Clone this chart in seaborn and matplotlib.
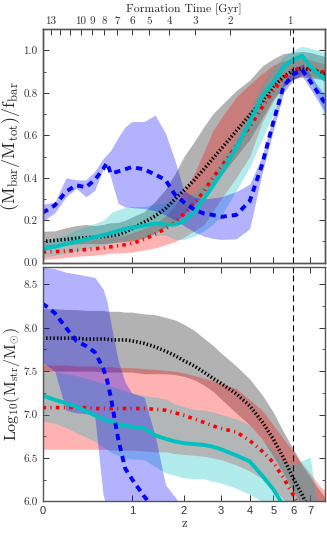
import numpy as np
import pandas as pd
import matplotlib
matplotlib.use('Agg')
import matplotlib.pyplot as plt
import seaborn as sns
from matplotlib.ticker import MultipleLocator, NullLocator, FixedLocator

nan = np.nan

# redshift grid the curves are sampled on
z = [0, 0.1, 0.2, 0.3, 0.4, 0.5, 0.6, 0.65, 0.7, 0.8, 0.9, 1.0, 1.2, 1.4, 1.6, 1.8,
     2.0, 2.25, 2.5, 2.75, 3.0, 3.5, 4.0, 4.5, 5.0, 5.5, 6.0, 6.5, 7.0, 7.5, 8.0]

# ---- top panel: (M_bar/M_tot)/f_bar ----
fb_blue = [0.235, 0.27, 0.335, 0.365, 0.355, 0.39, 0.44, 0.47, 0.42, 0.43, 0.44, 0.45, 0.44, 0.415, 0.39, 0.32,
           0.285, 0.25, 0.232, 0.225, 0.216, 0.225, 0.29, 0.46, 0.66, 0.83, 0.885, 0.91, 0.855, 0.80, 0.75]
fb_blue_lo = [0.195, 0.235, 0.31, 0.35, 0.31, 0.34, 0.44, 0.46, 0.40, 0.28, 0.262, 0.26, 0.255, 0.245, 0.225, 0.20,
              0.175, 0.145, 0.125, 0.115, 0.11, 0.112, 0.16, 0.42, 0.62, 0.80, 0.86, 0.88, 0.82, 0.76, 0.71]
fb_blue_hi = [0.275, 0.285, 0.40, 0.39, 0.39, 0.43, 0.49, 0.51, 0.53, 0.59, 0.64, 0.665, 0.665, 0.695, 0.61, 0.48,
              0.34, 0.31, 0.30, 0.305, 0.31, 0.335, 0.37, 0.50, 0.69, 0.85, 0.905, 0.935, 0.885, 0.83, 0.79]

fb_black = [0.10, 0.105, 0.11, 0.115, 0.118, 0.12, 0.123, 0.125, 0.127, 0.133, 0.145, 0.16, 0.19, 0.22, 0.255, 0.30,
            0.34, 0.39, 0.44, 0.49, 0.535, 0.62, 0.695, 0.76, 0.83, 0.875, 0.905, 0.915, 0.91, 0.90, 0.89]
fb_black_lo = [0.08, 0.082, 0.085, 0.088, 0.09, 0.09, 0.09, 0.092, 0.094, 0.097, 0.10, 0.102, 0.115, 0.14, 0.165, 0.19,
               0.23, 0.275, 0.32, 0.37, 0.41, 0.50, 0.58, 0.68, 0.77, 0.83, 0.865, 0.875, 0.87, 0.865, 0.86]
fb_black_hi = [0.148, 0.15, 0.165, 0.175, 0.18, 0.175, 0.18, 0.185, 0.188, 0.19, 0.20, 0.215, 0.24, 0.29, 0.345, 0.42,
               0.50, 0.57, 0.64, 0.70, 0.74, 0.81, 0.86, 0.925, 0.96, 0.985, 0.99, 0.995, 0.99, 0.98, 0.97]

fb_cyan = [0.065, 0.075, 0.088, 0.10, 0.11, 0.12, 0.13, 0.135, 0.14, 0.15, 0.16, 0.165, 0.175, 0.185, 0.18, 0.18,
           0.195, 0.24, 0.30, 0.36, 0.42, 0.54, 0.66, 0.78, 0.85, 0.92, 0.955, 0.975, 0.925, 0.89, 0.86]
fb_cyan_lo = [0.025, 0.035, 0.045, 0.055, 0.065, 0.075, 0.082, 0.086, 0.09, 0.10, 0.105, 0.11, 0.12, 0.13, 0.13, 0.11,
              0.11, 0.125, 0.15, 0.18, 0.22, 0.34, 0.45, 0.58, 0.70, 0.82, 0.87, 0.895, 0.86, 0.78, 0.67]
fb_cyan_hi = [0.10, 0.115, 0.13, 0.155, 0.17, 0.185, 0.20, 0.215, 0.235, 0.25, 0.26, 0.265, 0.265, 0.275, 0.28, 0.29,
              0.30, 0.33, 0.37, 0.42, 0.48, 0.59, 0.72, 0.84, 0.92, 0.97, 1.0, 1.02, 1.01, 1.0, 0.99]

fb_red = [0.05, 0.052, 0.055, 0.058, 0.062, 0.066, 0.07, 0.072, 0.075, 0.08, 0.085, 0.09, 0.11, 0.135, 0.16, 0.19,
          0.23, 0.28, 0.335, 0.40, 0.45, 0.55, 0.64, 0.73, 0.81, 0.87, 0.90, 0.925, 0.915, 0.905, 0.895]
fb_red_lo = [0.015, 0.02, 0.025, 0.03, 0.033, 0.036, 0.04, 0.042, 0.044, 0.046, 0.048, 0.05, 0.06, 0.07, 0.085, 0.10,
             0.12, 0.15, 0.18, 0.24, 0.30, 0.40, 0.50, 0.66, 0.76, 0.83, 0.865, 0.885, 0.88, 0.87, 0.86]
fb_red_hi = [0.085, 0.09, 0.095, 0.10, 0.105, 0.11, 0.115, 0.118, 0.12, 0.125, 0.13, 0.14, 0.16, 0.185, 0.22, 0.27,
             0.33, 0.42, 0.52, 0.62, 0.68, 0.78, 0.84, 0.89, 0.93, 0.95, 0.96, 0.965, 0.955, 0.945, 0.935]

# ---- bottom panel: log10 stellar mass ----
ms_blue = [8.28, 8.17, 8.00, 7.85, 7.79, 7.72, 7.54, 7.40, 7.20, 6.72, 6.38, 6.26, 6.06, 5.9, nan, nan,
           nan, nan, nan, nan, nan, nan, nan, nan, nan, nan, nan, nan, nan, nan, nan]
ms_blue_lo = [7.6, 7.5, 7.05, 7.02, 7.01, 6.99, 6.08, 5.9, 5.9, 5.9, 5.9, 5.9, 5.9, 5.9, 5.9, 5.9,
              5.9, nan, nan, nan, nan, nan, nan, nan, nan, nan, nan, nan, nan, nan, nan]
ms_blue_hi = [8.70, 8.68, 8.64, 8.62, 8.60, 8.58, 8.45, 8.30, 8.05, 7.62, 7.37, 7.25, 7.20, 6.75, 6.19, 6.05,
              5.9, nan, nan, nan, nan, nan, nan, nan, nan, nan, nan, nan, nan, nan, nan]

ms_black = [7.88, 7.88, 7.88, 7.88, 7.87, 7.87, 7.87, 7.87, 7.86, 7.86, 7.86, 7.85, 7.82, 7.78, 7.73, 7.68,
            7.62, 7.56, 7.49, 7.42, 7.36, 7.24, 7.10, 6.92, 6.72, 6.50, 6.27, 6.08, 5.88, nan, nan]
ms_black_lo = [7.50, 7.50, 7.50, 7.50, 7.50, 7.50, 7.49, 7.49, 7.49, 7.49, 7.49, 7.49, 7.47, 7.47, 7.47, 7.46,
               7.44, 7.40, 7.34, 7.27, 7.18, 7.02, 6.88, 6.72, 6.52, 6.32, 6.12, 5.95, 5.80, 5.80, 5.80]
ms_black_hi = [8.22, 8.22, 8.21, 8.21, 8.20, 8.20, 8.20, 8.19, 8.19, 8.19, 8.18, 8.18, 8.16, 8.15, 8.12, 8.09,
               8.04, 7.97, 7.88, 7.80, 7.71, 7.56, 7.41, 7.23, 7.03, 6.80, 6.61, 6.42, 6.28, 6.15, 6.04]

ms_cyan = [7.22, 7.17, 7.13, 7.09, 7.04, 6.99, 6.95, 6.93, 6.92, 6.89, 6.87, 6.86, 6.84, 6.76, 6.72, 6.69,
           6.67, 6.66, 6.65, 6.63, 6.60, 6.53, 6.46, 6.30, 6.14, 5.95, nan, nan, nan, nan, nan]
ms_cyan_lo = [6.93, 6.90, 6.85, 6.79, 6.74, 6.69, 6.63, 6.60, 6.56, 6.53, 6.50, 6.49, 6.48, 6.40, 6.33, 6.30,
              6.27, 6.26, 6.26, 6.23, 6.21, 6.15, 6.08, 6.00, 5.90, 5.90, 5.90, 5.90, 5.90, 5.90, nan]
ms_cyan_hi = [7.50, 7.49, 7.47, 7.45, 7.42, 7.39, 7.36, 7.34, 7.33, 7.30, 7.27, 7.25, 7.22, 7.20, 7.18, 7.12,
              7.09, 7.06, 7.05, 7.03, 7.00, 6.95, 6.88, 6.72, 6.58, 6.45, 6.42, 6.47, 6.51, 5.90, nan]

ms_red = [7.08, 7.08, 7.08, 7.08, 7.08, 7.07, 7.07, 7.07, 7.07, 7.07, 7.07, 7.07, 7.07, 7.06, 7.05, 7.02,
          6.99, 6.95, 6.91, 6.87, 6.84, 6.80, 6.70, 6.58, 6.45, 6.27, 6.08, 5.90, nan, nan, nan]
ms_red_lo = [6.60, 6.60, 6.60, 6.60, 6.60, 6.60, 6.60, 6.60, 6.59, 6.59, 6.59, 6.59, 6.58, 6.57, 6.57, 6.55,
             6.54, 6.53, 6.52, 6.50, 6.48, 6.42, 6.35, 6.26, 6.15, 6.02, 5.90, 5.80, 5.80, 5.80, 5.80]
ms_red_hi = [7.57, 7.57, 7.57, 7.56, 7.56, 7.56, 7.55, 7.55, 7.55, 7.54, 7.54, 7.54, 7.53, 7.52, 7.51, 7.50,
             7.48, 7.45, 7.42, 7.39, 7.36, 7.30, 7.17, 7.05, 6.88, 6.72, 6.58, 6.44, 6.32, 6.20, 6.11]

ft_labels = [13, 10, 9, 8, 7, 6, 5, 4, 3, 2, 1]
ft_ticks = [13, 12, 11, 10, 9, 8, 7, 6, 5, 4, 3, 2, 1]
z_line = 6

df = pd.DataFrame({'z': z})
df['opz'] = df['z'] + 1.0

sns.set_style('ticks')
plt.rcParams['font.family'] = ['cmr10', 'DejaVu Serif']
plt.rcParams.update({
    'mathtext.fontset': 'cm',
    'axes.formatter.use_mathtext': True,
    'xtick.direction': 'in', 'ytick.direction': 'in',
    'xtick.top': True, 'ytick.right': True,
    'xtick.major.size': 4, 'ytick.major.size': 4,
    'xtick.minor.size': 2, 'ytick.minor.size': 2,
    'xtick.major.width': 0.7, 'ytick.major.width': 0.7,
    'xtick.minor.width': 0.6, 'ytick.minor.width': 0.6,
    'axes.linewidth': 1.0, 'axes.edgecolor': '#555555',
    'xtick.color': '#333333', 'ytick.color': '#333333',
    'font.size': 8,
})

fig = plt.figure(figsize=(3.27, 5.34), dpi=100)
ax1 = fig.add_axes([0.130, 0.508, 0.865, 0.4375])
ax2 = fig.add_axes([0.130, 0.0612, 0.865, 0.4388])

series = [
    ('k', ':', 'k', 2.6),
    ('r', '-.', 'r', 2.6),
    ('#00c0c0', '-', '#00c0c0', 2.8),
    ('b', '--', 'b', 2.8),
]
top = {'k': (fb_black, fb_black_lo, fb_black_hi), 'r': (fb_red, fb_red_lo, fb_red_hi),
       '#00c0c0': (fb_cyan, fb_cyan_lo, fb_cyan_hi), 'b': (fb_blue, fb_blue_lo, fb_blue_hi)}
bot = {'k': (ms_black, ms_black_lo, ms_black_hi), 'r': (ms_red, ms_red_lo, ms_red_hi),
       '#00c0c0': (ms_cyan, ms_cyan_lo, ms_cyan_hi), 'b': (ms_blue, ms_blue_lo, ms_blue_hi)}

for ax, vals in [(ax1, top), (ax2, bot)]:
    for key, ls, band, lw in series:
        med, lo, hi = vals[key]
        ax.fill_between(df['opz'], lo, hi, color=band, alpha=0.3, lw=0)
    for key, ls, band, lw in series:
        med = vals[key][0]
        d = df.assign(v=med).dropna()
        line = sns.lineplot(data=d, x='opz', y='v', ax=ax, color=key, lw=lw, errorbar=None)
        line.lines[-1].set_linestyle(ls)
        if ls == '--':
            line.lines[-1].set_dashes((1.6, 1.3))
        elif ls == ':':
            line.lines[-1].set_dashes((0.4, 0.6))
        elif ls == '-.':
            line.lines[-1].set_dashes((1.0, 1.2, 0.3, 1.2))
    ax.axvline(1 + z_line, color='k', ls='--', lw=0.8, dashes=(5.5, 3.5))
    ax.set_xscale('log')
    ax.set_xlim(1, 9)
    ax.xaxis.set_major_locator(FixedLocator([1, 2, 3, 4, 5, 6, 7, 8]))
    ax.xaxis.set_minor_locator(NullLocator())
    ax.set_xticklabels(['0', '1', '2', '3', '4', '5', '6', '7'])
    ax.set_ylabel('')
    ax.set_xlabel('')

ax1.set_ylim(0, 1.1)
ax1.set_yticks([0, 0.2, 0.4, 0.6, 0.8, 1.0])
ax1.set_yticklabels(['0.0', '0.2', '0.4', '0.6', '0.8', '1.0'])
ax1.yaxis.set_minor_locator(MultipleLocator(0.1))
ax1.tick_params(axis='x', labelbottom=False, top=False)
ax1.set_ylabel(r'$(\mathrm{M_{bar}/M_{tot}})/\mathrm{f_{bar}}$', fontsize=13)
ax1.yaxis.set_label_coords(-0.072, 0.5)

ax2.set_ylim(6.0, 8.7)
ax2.set_yticks([6.0, 6.5, 7.0, 7.5, 8.0, 8.5])
ax2.set_yticklabels(['6.0', '6.5', '7.0', '7.5', '8.0', '8.5'])
ax2.yaxis.set_minor_locator(MultipleLocator(0.25))
ax2.set_ylabel(r'$\mathrm{Log_{10}(M_{str}/M_{\odot})}$', fontsize=11.5)
ax2.yaxis.set_label_coords(-0.072, 0.5)
ax2.set_xlabel('z', fontsize=9, labelpad=1)
for lbl in ax2.get_xticklabels():
    lbl.set_fontfamily('Liberation Sans')
    lbl.set_fontsize(8)

# formation time axis on top
om, ol, t_h = 0.27, 0.73, 977.8 / 70.0
pref = 2.0 / (3.0 * np.sqrt(ol)) * t_h
def opz_of_age(t):
    return (np.sinh(np.asarray(t, float) / pref) / np.sqrt(ol / om)) ** (-2.0 / 3.0)

axt = ax1.twiny()
axt.set_xscale('log')
axt.set_xlim(1, 9)
axt.xaxis.set_major_locator(FixedLocator(opz_of_age(ft_ticks)))
axt.xaxis.set_minor_locator(NullLocator())
axt.set_xticklabels([str(t) if t in ft_labels else '' for t in ft_ticks])
axt.tick_params(axis='x', direction='in', labelsize=8, pad=2)
axt.set_xlabel('Formation Time [Gyr]', fontsize=8.5, labelpad=3)

fig.savefig('out.png', dpi=100)
